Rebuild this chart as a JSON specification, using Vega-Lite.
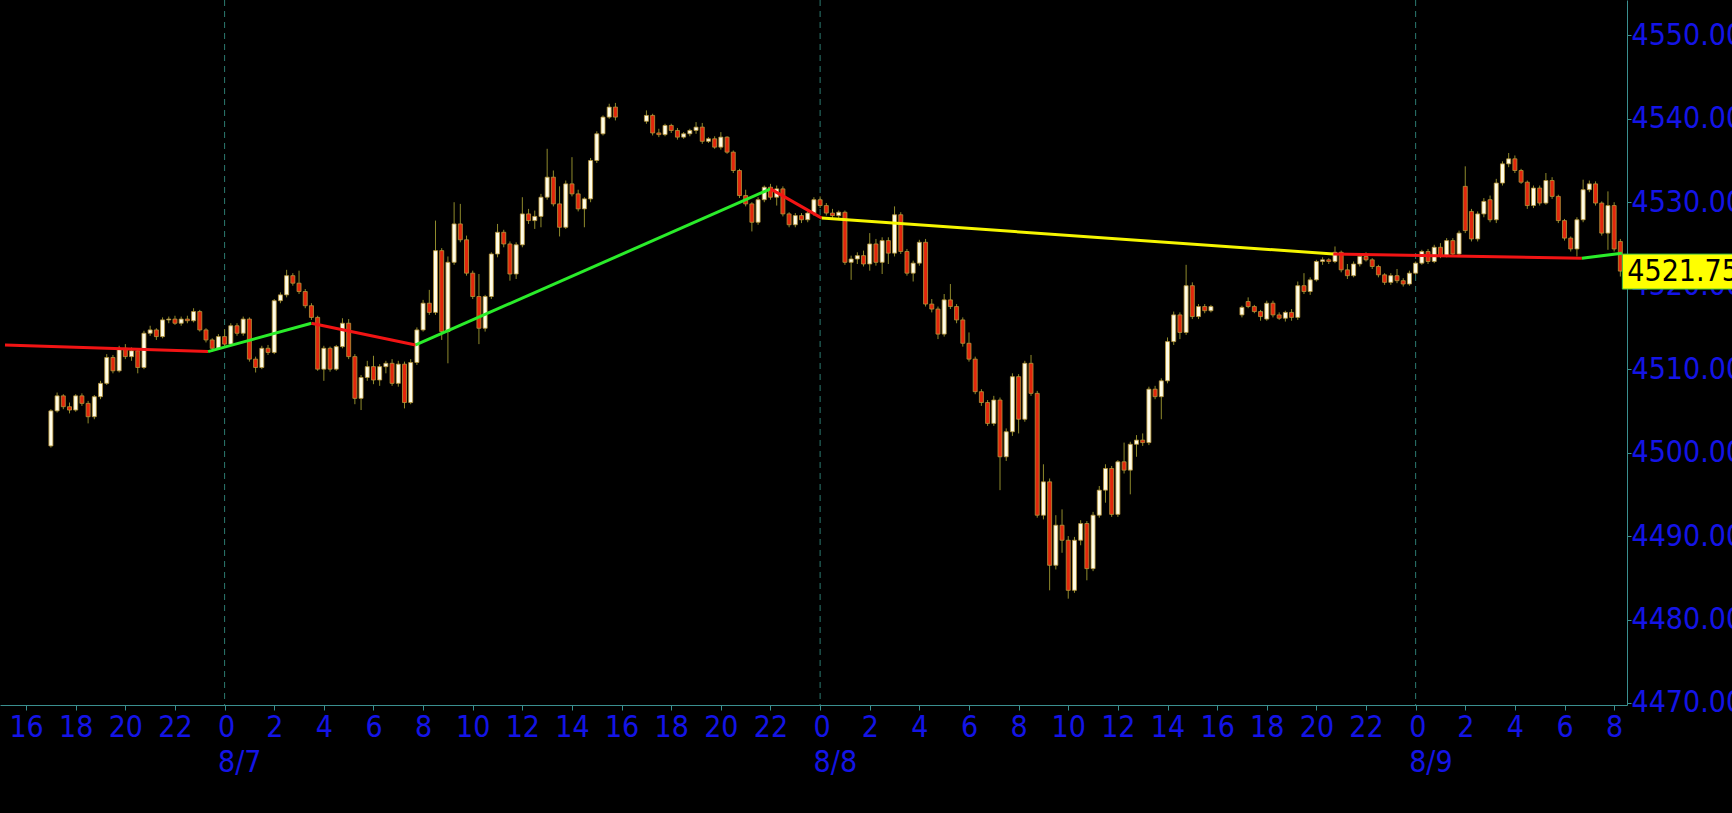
{
  "$schema": "https://vega.github.io/schema/vega-lite/v6.json",
  "autosize": "none",
  "width": 1627,
  "height": 705,
  "padding": {"left": 0, "top": 0, "right": 105, "bottom": 108},
  "background": "#000000",
  "config": {"view": {"stroke": null}},
  "datasets": {
    "bars": [
      {"t":"2023-08-06T17:00:00Z","o":4500.8,"h":4505.2,"l":4500.6,"c":4505.0},
      {"t":"2023-08-06T17:15:00Z","o":4505.0,"h":4507.2,"l":4504.8,"c":4506.8},
      {"t":"2023-08-06T17:30:00Z","o":4506.8,"h":4507.0,"l":4505.2,"c":4505.5},
      {"t":"2023-08-06T17:45:00Z","o":4505.5,"h":4506.0,"l":4504.7,"c":4505.1},
      {"t":"2023-08-06T18:00:00Z","o":4505.1,"h":4507.0,"l":4504.9,"c":4506.8},
      {"t":"2023-08-06T18:15:00Z","o":4506.8,"h":4507.1,"l":4505.6,"c":4505.9},
      {"t":"2023-08-06T18:30:00Z","o":4505.9,"h":4506.2,"l":4503.5,"c":4504.3},
      {"t":"2023-08-06T18:45:00Z","o":4504.3,"h":4506.9,"l":4504.0,"c":4506.7},
      {"t":"2023-08-06T19:00:00Z","o":4506.7,"h":4508.6,"l":4506.4,"c":4508.3},
      {"t":"2023-08-06T19:15:00Z","o":4508.3,"h":4511.8,"l":4508.1,"c":4511.4},
      {"t":"2023-08-06T19:30:00Z","o":4511.4,"h":4511.7,"l":4509.5,"c":4509.8},
      {"t":"2023-08-06T19:45:00Z","o":4509.8,"h":4512.8,"l":4509.6,"c":4512.5},
      {"t":"2023-08-06T20:00:00Z","o":4512.5,"h":4513.0,"l":4511.2,"c":4511.5},
      {"t":"2023-08-06T20:15:00Z","o":4511.5,"h":4512.6,"l":4511.0,"c":4512.2},
      {"t":"2023-08-06T20:30:00Z","o":4512.2,"h":4512.5,"l":4509.5,"c":4510.2},
      {"t":"2023-08-06T20:45:00Z","o":4510.2,"h":4514.6,"l":4510.0,"c":4514.3},
      {"t":"2023-08-06T21:00:00Z","o":4514.3,"h":4515.2,"l":4514.0,"c":4514.7},
      {"t":"2023-08-06T21:15:00Z","o":4514.7,"h":4514.9,"l":4513.5,"c":4513.9},
      {"t":"2023-08-06T21:30:00Z","o":4513.9,"h":4516.2,"l":4513.7,"c":4515.9},
      {"t":"2023-08-06T21:45:00Z","o":4515.9,"h":4516.3,"l":4515.5,"c":4516.0},
      {"t":"2023-08-06T22:00:00Z","o":4516.0,"h":4516.4,"l":4515.3,"c":4515.5},
      {"t":"2023-08-06T22:15:00Z","o":4515.5,"h":4516.3,"l":4515.2,"c":4516.0},
      {"t":"2023-08-06T22:30:00Z","o":4516.0,"h":4516.4,"l":4515.5,"c":4515.8},
      {"t":"2023-08-06T22:45:00Z","o":4515.8,"h":4517.3,"l":4515.6,"c":4516.9},
      {"t":"2023-08-06T23:00:00Z","o":4516.9,"h":4517.1,"l":4514.5,"c":4514.7},
      {"t":"2023-08-06T23:15:00Z","o":4514.7,"h":4514.9,"l":4513.2,"c":4513.5},
      {"t":"2023-08-06T23:30:00Z","o":4513.5,"h":4513.7,"l":4512.1,"c":4512.5},
      {"t":"2023-08-06T23:45:00Z","o":4512.5,"h":4514.2,"l":4512.3,"c":4513.9},
      {"t":"2023-08-07T00:00:00Z","o":4513.9,"h":4514.8,"l":4512.7,"c":4513.0},
      {"t":"2023-08-07T00:15:00Z","o":4513.0,"h":4515.5,"l":4512.8,"c":4515.2},
      {"t":"2023-08-07T00:30:00Z","o":4515.2,"h":4515.5,"l":4514.0,"c":4514.3},
      {"t":"2023-08-07T00:45:00Z","o":4514.3,"h":4516.3,"l":4514.0,"c":4516.0},
      {"t":"2023-08-07T01:00:00Z","o":4516.0,"h":4516.2,"l":4510.9,"c":4511.2},
      {"t":"2023-08-07T01:15:00Z","o":4511.2,"h":4511.5,"l":4509.6,"c":4510.2},
      {"t":"2023-08-07T01:30:00Z","o":4510.2,"h":4512.8,"l":4510.0,"c":4512.5},
      {"t":"2023-08-07T01:45:00Z","o":4512.5,"h":4512.9,"l":4511.7,"c":4512.0},
      {"t":"2023-08-07T02:00:00Z","o":4512.0,"h":4518.4,"l":4511.8,"c":4518.2},
      {"t":"2023-08-07T02:15:00Z","o":4518.2,"h":4519.2,"l":4517.9,"c":4518.9},
      {"t":"2023-08-07T02:30:00Z","o":4518.9,"h":4521.9,"l":4518.6,"c":4521.2},
      {"t":"2023-08-07T02:45:00Z","o":4521.2,"h":4521.5,"l":4520.0,"c":4520.3},
      {"t":"2023-08-07T03:00:00Z","o":4520.3,"h":4521.8,"l":4519.0,"c":4519.3},
      {"t":"2023-08-07T03:15:00Z","o":4519.3,"h":4519.6,"l":4517.3,"c":4517.6},
      {"t":"2023-08-07T03:30:00Z","o":4517.6,"h":4517.9,"l":4515.9,"c":4516.2},
      {"t":"2023-08-07T03:45:00Z","o":4516.2,"h":4516.4,"l":4509.8,"c":4510.0},
      {"t":"2023-08-07T04:00:00Z","o":4510.0,"h":4512.8,"l":4508.6,"c":4512.5},
      {"t":"2023-08-07T04:15:00Z","o":4512.5,"h":4512.7,"l":4509.7,"c":4510.0},
      {"t":"2023-08-07T04:30:00Z","o":4510.0,"h":4512.9,"l":4509.8,"c":4512.7},
      {"t":"2023-08-07T04:45:00Z","o":4512.7,"h":4516.1,"l":4512.5,"c":4515.5},
      {"t":"2023-08-07T05:00:00Z","o":4515.5,"h":4516.0,"l":4511.2,"c":4511.5},
      {"t":"2023-08-07T05:15:00Z","o":4511.5,"h":4511.8,"l":4505.8,"c":4506.5},
      {"t":"2023-08-07T05:30:00Z","o":4506.5,"h":4509.3,"l":4505.1,"c":4509.0},
      {"t":"2023-08-07T05:45:00Z","o":4509.0,"h":4511.0,"l":4508.6,"c":4510.3},
      {"t":"2023-08-07T06:00:00Z","o":4510.3,"h":4511.6,"l":4508.2,"c":4508.7},
      {"t":"2023-08-07T06:15:00Z","o":4508.7,"h":4510.6,"l":4508.0,"c":4510.3},
      {"t":"2023-08-07T06:30:00Z","o":4510.3,"h":4511.0,"l":4509.5,"c":4510.7},
      {"t":"2023-08-07T06:45:00Z","o":4510.7,"h":4511.2,"l":4508.0,"c":4508.3},
      {"t":"2023-08-07T07:00:00Z","o":4508.3,"h":4511.0,"l":4507.9,"c":4510.6},
      {"t":"2023-08-07T07:15:00Z","o":4510.6,"h":4510.9,"l":4505.3,"c":4506.0},
      {"t":"2023-08-07T07:30:00Z","o":4506.0,"h":4511.2,"l":4505.8,"c":4510.8},
      {"t":"2023-08-07T07:45:00Z","o":4510.8,"h":4515.0,"l":4510.5,"c":4514.7},
      {"t":"2023-08-07T08:00:00Z","o":4514.7,"h":4518.3,"l":4514.5,"c":4517.9},
      {"t":"2023-08-07T08:15:00Z","o":4517.9,"h":4519.5,"l":4516.5,"c":4516.8},
      {"t":"2023-08-07T08:30:00Z","o":4516.8,"h":4527.8,"l":4516.5,"c":4524.2},
      {"t":"2023-08-07T08:45:00Z","o":4524.2,"h":4524.5,"l":4513.5,"c":4514.5},
      {"t":"2023-08-07T09:00:00Z","o":4514.5,"h":4523.5,"l":4510.7,"c":4522.8},
      {"t":"2023-08-07T09:15:00Z","o":4522.8,"h":4530.0,"l":4522.5,"c":4527.4},
      {"t":"2023-08-07T09:30:00Z","o":4527.4,"h":4529.8,"l":4525.2,"c":4525.5},
      {"t":"2023-08-07T09:45:00Z","o":4525.5,"h":4526.0,"l":4521.2,"c":4521.5},
      {"t":"2023-08-07T10:00:00Z","o":4521.5,"h":4521.8,"l":4518.4,"c":4518.7},
      {"t":"2023-08-07T10:15:00Z","o":4518.7,"h":4521.4,"l":4513.0,"c":4514.9},
      {"t":"2023-08-07T10:30:00Z","o":4514.9,"h":4518.9,"l":4514.5,"c":4518.7},
      {"t":"2023-08-07T10:45:00Z","o":4518.7,"h":4524.0,"l":4518.4,"c":4523.8},
      {"t":"2023-08-07T11:00:00Z","o":4523.8,"h":4527.4,"l":4523.4,"c":4526.4},
      {"t":"2023-08-07T11:15:00Z","o":4526.4,"h":4526.7,"l":4524.6,"c":4525.0},
      {"t":"2023-08-07T11:30:00Z","o":4525.0,"h":4525.3,"l":4520.6,"c":4521.4},
      {"t":"2023-08-07T11:45:00Z","o":4521.4,"h":4525.2,"l":4520.8,"c":4524.9},
      {"t":"2023-08-07T12:00:00Z","o":4524.9,"h":4530.6,"l":4524.6,"c":4528.6},
      {"t":"2023-08-07T12:15:00Z","o":4528.6,"h":4529.2,"l":4527.4,"c":4527.8},
      {"t":"2023-08-07T12:30:00Z","o":4527.8,"h":4529.0,"l":4526.8,"c":4528.3},
      {"t":"2023-08-07T12:45:00Z","o":4528.3,"h":4531.0,"l":4527.0,"c":4530.6},
      {"t":"2023-08-07T13:00:00Z","o":4530.6,"h":4536.4,"l":4530.3,"c":4533.0},
      {"t":"2023-08-07T13:15:00Z","o":4533.0,"h":4533.8,"l":4529.5,"c":4529.8},
      {"t":"2023-08-07T13:30:00Z","o":4529.8,"h":4531.9,"l":4525.9,"c":4527.0},
      {"t":"2023-08-07T13:45:00Z","o":4527.0,"h":4532.6,"l":4526.8,"c":4532.2},
      {"t":"2023-08-07T14:00:00Z","o":4532.2,"h":4535.4,"l":4530.7,"c":4531.0},
      {"t":"2023-08-07T14:15:00Z","o":4531.0,"h":4531.5,"l":4528.9,"c":4529.2},
      {"t":"2023-08-07T14:30:00Z","o":4529.2,"h":4530.6,"l":4527.0,"c":4530.4},
      {"t":"2023-08-07T14:45:00Z","o":4530.4,"h":4535.3,"l":4530.0,"c":4535.0},
      {"t":"2023-08-07T15:00:00Z","o":4535.0,"h":4538.5,"l":4534.7,"c":4538.2},
      {"t":"2023-08-07T15:15:00Z","o":4538.2,"h":4540.4,"l":4538.0,"c":4540.2},
      {"t":"2023-08-07T15:30:00Z","o":4540.2,"h":4541.8,"l":4540.0,"c":4541.4},
      {"t":"2023-08-07T15:45:00Z","o":4541.4,"h":4541.9,"l":4539.8,"c":4540.2},
      {"t":"2023-08-07T17:00:00Z","o":4539.7,"h":4541.0,"l":4539.4,"c":4540.4},
      {"t":"2023-08-07T17:15:00Z","o":4540.4,"h":4540.6,"l":4538.0,"c":4538.3},
      {"t":"2023-08-07T17:30:00Z","o":4538.3,"h":4538.8,"l":4537.8,"c":4538.1},
      {"t":"2023-08-07T17:45:00Z","o":4538.1,"h":4539.4,"l":4537.9,"c":4539.2},
      {"t":"2023-08-07T18:00:00Z","o":4539.2,"h":4539.4,"l":4538.3,"c":4538.6},
      {"t":"2023-08-07T18:15:00Z","o":4538.6,"h":4538.9,"l":4537.5,"c":4537.8},
      {"t":"2023-08-07T18:30:00Z","o":4537.8,"h":4538.4,"l":4537.6,"c":4538.2},
      {"t":"2023-08-07T18:45:00Z","o":4538.2,"h":4538.8,"l":4537.9,"c":4538.6},
      {"t":"2023-08-07T19:00:00Z","o":4538.6,"h":4539.6,"l":4538.2,"c":4539.0},
      {"t":"2023-08-07T19:15:00Z","o":4539.0,"h":4539.5,"l":4537.0,"c":4537.3},
      {"t":"2023-08-07T19:30:00Z","o":4537.3,"h":4537.8,"l":4537.1,"c":4537.6},
      {"t":"2023-08-07T19:45:00Z","o":4537.6,"h":4537.9,"l":4536.4,"c":4536.6},
      {"t":"2023-08-07T20:00:00Z","o":4536.6,"h":4538.4,"l":4536.3,"c":4537.8},
      {"t":"2023-08-07T20:15:00Z","o":4537.8,"h":4537.9,"l":4535.8,"c":4536.0},
      {"t":"2023-08-07T20:30:00Z","o":4536.0,"h":4536.2,"l":4533.5,"c":4533.8},
      {"t":"2023-08-07T20:45:00Z","o":4533.8,"h":4534.0,"l":4530.5,"c":4530.8},
      {"t":"2023-08-07T21:00:00Z","o":4530.8,"h":4531.5,"l":4529.5,"c":4529.8},
      {"t":"2023-08-07T21:15:00Z","o":4529.8,"h":4530.0,"l":4526.5,"c":4527.6},
      {"t":"2023-08-07T21:30:00Z","o":4527.6,"h":4530.6,"l":4527.3,"c":4530.3},
      {"t":"2023-08-07T21:45:00Z","o":4530.3,"h":4532.0,"l":4530.0,"c":4531.8},
      {"t":"2023-08-07T22:00:00Z","o":4531.8,"h":4532.2,"l":4530.3,"c":4530.6},
      {"t":"2023-08-07T22:15:00Z","o":4530.6,"h":4532.0,"l":4529.6,"c":4531.6},
      {"t":"2023-08-07T22:30:00Z","o":4531.6,"h":4531.9,"l":4528.3,"c":4528.6},
      {"t":"2023-08-07T22:45:00Z","o":4528.6,"h":4528.8,"l":4527.0,"c":4527.3},
      {"t":"2023-08-07T23:00:00Z","o":4527.3,"h":4528.7,"l":4527.0,"c":4528.4},
      {"t":"2023-08-07T23:15:00Z","o":4528.4,"h":4528.7,"l":4527.5,"c":4527.9},
      {"t":"2023-08-07T23:30:00Z","o":4527.9,"h":4528.9,"l":4527.6,"c":4528.7},
      {"t":"2023-08-07T23:45:00Z","o":4528.7,"h":4530.6,"l":4528.4,"c":4530.3},
      {"t":"2023-08-08T00:00:00Z","o":4530.3,"h":4530.7,"l":4529.3,"c":4529.6},
      {"t":"2023-08-08T00:15:00Z","o":4529.6,"h":4529.9,"l":4528.4,"c":4528.7},
      {"t":"2023-08-08T00:30:00Z","o":4528.7,"h":4529.2,"l":4528.0,"c":4528.4},
      {"t":"2023-08-08T00:45:00Z","o":4528.4,"h":4529.0,"l":4528.1,"c":4528.8},
      {"t":"2023-08-08T01:00:00Z","o":4528.8,"h":4529.0,"l":4522.5,"c":4522.8},
      {"t":"2023-08-08T01:15:00Z","o":4522.8,"h":4523.6,"l":4520.7,"c":4523.2},
      {"t":"2023-08-08T01:30:00Z","o":4523.2,"h":4524.0,"l":4522.6,"c":4523.6},
      {"t":"2023-08-08T01:45:00Z","o":4523.6,"h":4524.2,"l":4522.3,"c":4522.6},
      {"t":"2023-08-08T02:00:00Z","o":4522.6,"h":4526.3,"l":4521.8,"c":4525.0},
      {"t":"2023-08-08T02:15:00Z","o":4525.0,"h":4525.6,"l":4522.4,"c":4522.8},
      {"t":"2023-08-08T02:30:00Z","o":4522.8,"h":4525.8,"l":4521.4,"c":4525.4},
      {"t":"2023-08-08T02:45:00Z","o":4525.4,"h":4525.8,"l":4522.6,"c":4523.9},
      {"t":"2023-08-08T03:00:00Z","o":4523.9,"h":4529.5,"l":4523.5,"c":4528.5},
      {"t":"2023-08-08T03:15:00Z","o":4528.5,"h":4528.8,"l":4523.8,"c":4524.1},
      {"t":"2023-08-08T03:30:00Z","o":4524.1,"h":4524.4,"l":4521.2,"c":4521.5},
      {"t":"2023-08-08T03:45:00Z","o":4521.5,"h":4523.0,"l":4520.5,"c":4522.7},
      {"t":"2023-08-08T04:00:00Z","o":4522.7,"h":4525.5,"l":4522.4,"c":4525.2},
      {"t":"2023-08-08T04:15:00Z","o":4525.2,"h":4525.6,"l":4517.5,"c":4517.8},
      {"t":"2023-08-08T04:30:00Z","o":4517.8,"h":4518.4,"l":4516.8,"c":4517.2},
      {"t":"2023-08-08T04:45:00Z","o":4517.2,"h":4517.5,"l":4513.6,"c":4514.2},
      {"t":"2023-08-08T05:00:00Z","o":4514.2,"h":4519.0,"l":4513.9,"c":4518.3},
      {"t":"2023-08-08T05:15:00Z","o":4518.3,"h":4520.2,"l":4517.2,"c":4517.5},
      {"t":"2023-08-08T05:30:00Z","o":4517.5,"h":4517.8,"l":4515.5,"c":4515.9},
      {"t":"2023-08-08T05:45:00Z","o":4515.9,"h":4516.2,"l":4512.7,"c":4513.1},
      {"t":"2023-08-08T06:00:00Z","o":4513.1,"h":4514.4,"l":4510.9,"c":4511.2},
      {"t":"2023-08-08T06:15:00Z","o":4511.2,"h":4511.5,"l":4507.0,"c":4507.3},
      {"t":"2023-08-08T06:30:00Z","o":4507.3,"h":4507.6,"l":4505.6,"c":4506.0},
      {"t":"2023-08-08T06:45:00Z","o":4506.0,"h":4506.3,"l":4503.2,"c":4503.5},
      {"t":"2023-08-08T07:00:00Z","o":4503.5,"h":4506.8,"l":4503.2,"c":4506.3},
      {"t":"2023-08-08T07:15:00Z","o":4506.3,"h":4506.6,"l":4495.5,"c":4499.5},
      {"t":"2023-08-08T07:30:00Z","o":4499.5,"h":4502.9,"l":4499.0,"c":4502.5},
      {"t":"2023-08-08T07:45:00Z","o":4502.5,"h":4509.5,"l":4502.0,"c":4509.1},
      {"t":"2023-08-08T08:00:00Z","o":4509.1,"h":4509.4,"l":4502.3,"c":4504.0},
      {"t":"2023-08-08T08:15:00Z","o":4504.0,"h":4511.0,"l":4503.7,"c":4510.7},
      {"t":"2023-08-08T08:30:00Z","o":4510.7,"h":4511.7,"l":4506.8,"c":4507.1},
      {"t":"2023-08-08T08:45:00Z","o":4507.1,"h":4507.4,"l":4492.2,"c":4492.5},
      {"t":"2023-08-08T09:00:00Z","o":4492.5,"h":4498.6,"l":4492.0,"c":4496.5},
      {"t":"2023-08-08T09:15:00Z","o":4496.5,"h":4496.9,"l":4483.5,"c":4486.5},
      {"t":"2023-08-08T09:30:00Z","o":4486.5,"h":4492.5,"l":4486.0,"c":4491.3},
      {"t":"2023-08-08T09:45:00Z","o":4491.3,"h":4493.2,"l":4488.0,"c":4489.5},
      {"t":"2023-08-08T10:00:00Z","o":4489.5,"h":4490.0,"l":4482.5,"c":4483.5},
      {"t":"2023-08-08T10:15:00Z","o":4483.5,"h":4489.9,"l":4483.2,"c":4489.5},
      {"t":"2023-08-08T10:30:00Z","o":4489.5,"h":4491.9,"l":4488.9,"c":4491.5},
      {"t":"2023-08-08T10:45:00Z","o":4491.5,"h":4491.8,"l":4484.7,"c":4486.1},
      {"t":"2023-08-08T11:00:00Z","o":4486.1,"h":4492.9,"l":4485.8,"c":4492.5},
      {"t":"2023-08-08T11:15:00Z","o":4492.5,"h":4496.0,"l":4492.2,"c":4495.5},
      {"t":"2023-08-08T11:30:00Z","o":4495.5,"h":4498.6,"l":4494.0,"c":4498.1},
      {"t":"2023-08-08T11:45:00Z","o":4498.1,"h":4498.4,"l":4492.3,"c":4492.6},
      {"t":"2023-08-08T12:00:00Z","o":4492.6,"h":4499.1,"l":4492.3,"c":4498.9},
      {"t":"2023-08-08T12:15:00Z","o":4498.9,"h":4501.2,"l":4497.5,"c":4497.9},
      {"t":"2023-08-08T12:30:00Z","o":4497.9,"h":4501.3,"l":4495.0,"c":4501.0},
      {"t":"2023-08-08T12:45:00Z","o":4501.0,"h":4502.1,"l":4499.5,"c":4501.5},
      {"t":"2023-08-08T13:00:00Z","o":4501.5,"h":4502.3,"l":4500.8,"c":4501.2},
      {"t":"2023-08-08T13:15:00Z","o":4501.2,"h":4507.9,"l":4500.9,"c":4507.6},
      {"t":"2023-08-08T13:30:00Z","o":4507.6,"h":4508.0,"l":4506.4,"c":4506.7},
      {"t":"2023-08-08T13:45:00Z","o":4506.7,"h":4508.9,"l":4504.0,"c":4508.6},
      {"t":"2023-08-08T14:00:00Z","o":4508.6,"h":4513.8,"l":4508.3,"c":4513.3},
      {"t":"2023-08-08T14:15:00Z","o":4513.3,"h":4516.9,"l":4512.9,"c":4516.5},
      {"t":"2023-08-08T14:30:00Z","o":4516.5,"h":4516.8,"l":4513.6,"c":4514.4},
      {"t":"2023-08-08T14:45:00Z","o":4514.4,"h":4522.5,"l":4514.1,"c":4520.0},
      {"t":"2023-08-08T15:00:00Z","o":4520.0,"h":4520.4,"l":4516.0,"c":4516.3},
      {"t":"2023-08-08T15:15:00Z","o":4516.3,"h":4517.8,"l":4516.0,"c":4517.5},
      {"t":"2023-08-08T15:30:00Z","o":4517.5,"h":4517.8,"l":4516.7,"c":4517.0},
      {"t":"2023-08-08T15:45:00Z","o":4517.0,"h":4517.7,"l":4516.8,"c":4517.5},
      {"t":"2023-08-08T17:00:00Z","o":4516.5,"h":4517.6,"l":4516.2,"c":4517.4},
      {"t":"2023-08-08T17:15:00Z","o":4518.1,"h":4518.6,"l":4517.3,"c":4517.5},
      {"t":"2023-08-08T17:30:00Z","o":4517.5,"h":4517.7,"l":4516.7,"c":4516.9},
      {"t":"2023-08-08T17:45:00Z","o":4516.9,"h":4517.1,"l":4515.8,"c":4516.3},
      {"t":"2023-08-08T18:00:00Z","o":4516.0,"h":4518.2,"l":4515.8,"c":4517.9},
      {"t":"2023-08-08T18:15:00Z","o":4517.9,"h":4518.2,"l":4516.2,"c":4516.5},
      {"t":"2023-08-08T18:30:00Z","o":4516.5,"h":4516.8,"l":4515.9,"c":4516.1},
      {"t":"2023-08-08T18:45:00Z","o":4516.1,"h":4517.0,"l":4515.7,"c":4516.8},
      {"t":"2023-08-08T19:00:00Z","o":4516.8,"h":4517.2,"l":4515.8,"c":4516.2},
      {"t":"2023-08-08T19:15:00Z","o":4516.2,"h":4520.5,"l":4515.9,"c":4520.0},
      {"t":"2023-08-08T19:30:00Z","o":4520.0,"h":4521.5,"l":4519.0,"c":4519.3},
      {"t":"2023-08-08T19:45:00Z","o":4519.3,"h":4521.0,"l":4518.9,"c":4520.7},
      {"t":"2023-08-08T20:00:00Z","o":4520.7,"h":4523.1,"l":4520.5,"c":4522.9},
      {"t":"2023-08-08T20:15:00Z","o":4522.9,"h":4523.4,"l":4522.5,"c":4523.1},
      {"t":"2023-08-08T20:30:00Z","o":4523.1,"h":4523.3,"l":4522.6,"c":4522.9},
      {"t":"2023-08-08T20:45:00Z","o":4522.9,"h":4524.7,"l":4522.7,"c":4524.0},
      {"t":"2023-08-08T21:00:00Z","o":4524.0,"h":4524.2,"l":4521.6,"c":4521.9},
      {"t":"2023-08-08T21:15:00Z","o":4521.9,"h":4522.6,"l":4520.8,"c":4521.2},
      {"t":"2023-08-08T21:30:00Z","o":4521.2,"h":4522.9,"l":4521.0,"c":4522.6},
      {"t":"2023-08-08T21:45:00Z","o":4522.6,"h":4523.8,"l":4522.3,"c":4523.5},
      {"t":"2023-08-08T22:00:00Z","o":4523.5,"h":4524.0,"l":4522.9,"c":4523.1},
      {"t":"2023-08-08T22:15:00Z","o":4523.1,"h":4523.3,"l":4522.0,"c":4522.3},
      {"t":"2023-08-08T22:30:00Z","o":4522.3,"h":4522.5,"l":4521.0,"c":4521.3},
      {"t":"2023-08-08T22:45:00Z","o":4521.3,"h":4521.5,"l":4520.1,"c":4520.4},
      {"t":"2023-08-08T23:00:00Z","o":4520.4,"h":4521.5,"l":4520.1,"c":4521.2},
      {"t":"2023-08-08T23:15:00Z","o":4521.2,"h":4522.0,"l":4520.3,"c":4520.6},
      {"t":"2023-08-08T23:30:00Z","o":4520.6,"h":4520.9,"l":4519.9,"c":4520.2},
      {"t":"2023-08-08T23:45:00Z","o":4520.2,"h":4521.8,"l":4520.0,"c":4521.5},
      {"t":"2023-08-09T00:00:00Z","o":4521.5,"h":4522.9,"l":4521.3,"c":4522.7},
      {"t":"2023-08-09T00:15:00Z","o":4522.7,"h":4524.3,"l":4522.5,"c":4524.1},
      {"t":"2023-08-09T00:30:00Z","o":4524.1,"h":4524.4,"l":4522.6,"c":4522.9},
      {"t":"2023-08-09T00:45:00Z","o":4522.9,"h":4524.9,"l":4522.7,"c":4524.6},
      {"t":"2023-08-09T01:00:00Z","o":4524.6,"h":4525.1,"l":4523.3,"c":4523.6},
      {"t":"2023-08-09T01:15:00Z","o":4523.6,"h":4525.7,"l":4523.4,"c":4525.4},
      {"t":"2023-08-09T01:30:00Z","o":4525.4,"h":4525.7,"l":4523.5,"c":4523.8},
      {"t":"2023-08-09T01:45:00Z","o":4523.8,"h":4526.6,"l":4523.6,"c":4526.3},
      {"t":"2023-08-09T02:00:00Z","o":4531.9,"h":4534.3,"l":4526.3,"c":4526.6},
      {"t":"2023-08-09T02:15:00Z","o":4528.9,"h":4529.2,"l":4525.3,"c":4525.6},
      {"t":"2023-08-09T02:30:00Z","o":4525.6,"h":4528.9,"l":4525.3,"c":4528.6},
      {"t":"2023-08-09T02:45:00Z","o":4528.6,"h":4530.5,"l":4528.2,"c":4530.1},
      {"t":"2023-08-09T03:00:00Z","o":4530.3,"h":4530.8,"l":4527.6,"c":4527.9},
      {"t":"2023-08-09T03:15:00Z","o":4527.9,"h":4532.8,"l":4527.5,"c":4532.3},
      {"t":"2023-08-09T03:30:00Z","o":4532.3,"h":4534.9,"l":4532.0,"c":4534.6},
      {"t":"2023-08-09T03:45:00Z","o":4534.6,"h":4535.9,"l":4534.2,"c":4535.2},
      {"t":"2023-08-09T04:00:00Z","o":4535.2,"h":4535.6,"l":4533.5,"c":4533.8},
      {"t":"2023-08-09T04:15:00Z","o":4533.8,"h":4534.0,"l":4532.2,"c":4532.4},
      {"t":"2023-08-09T04:30:00Z","o":4532.4,"h":4532.6,"l":4529.2,"c":4529.6},
      {"t":"2023-08-09T04:45:00Z","o":4529.6,"h":4532.0,"l":4529.3,"c":4531.7},
      {"t":"2023-08-09T05:00:00Z","o":4531.7,"h":4532.0,"l":4529.6,"c":4529.9},
      {"t":"2023-08-09T05:15:00Z","o":4529.9,"h":4533.5,"l":4529.7,"c":4532.6},
      {"t":"2023-08-09T05:30:00Z","o":4532.6,"h":4533.0,"l":4530.4,"c":4530.7},
      {"t":"2023-08-09T05:45:00Z","o":4530.7,"h":4530.9,"l":4527.5,"c":4527.8},
      {"t":"2023-08-09T06:00:00Z","o":4527.8,"h":4528.0,"l":4525.4,"c":4525.7},
      {"t":"2023-08-09T06:15:00Z","o":4525.7,"h":4525.9,"l":4524.1,"c":4524.4},
      {"t":"2023-08-09T06:30:00Z","o":4524.4,"h":4528.2,"l":4523.5,"c":4527.9},
      {"t":"2023-08-09T06:45:00Z","o":4527.9,"h":4532.7,"l":4527.6,"c":4531.5},
      {"t":"2023-08-09T07:00:00Z","o":4531.5,"h":4532.6,"l":4531.2,"c":4532.2},
      {"t":"2023-08-09T07:15:00Z","o":4532.2,"h":4532.5,"l":4529.6,"c":4529.9},
      {"t":"2023-08-09T07:30:00Z","o":4529.9,"h":4530.1,"l":4526.0,"c":4526.3},
      {"t":"2023-08-09T07:45:00Z","o":4526.3,"h":4531.3,"l":4524.3,"c":4529.6},
      {"t":"2023-08-09T08:00:00Z","o":4529.6,"h":4530.0,"l":4524.1,"c":4524.4},
      {"t":"2023-08-09T08:15:00Z","o":4525.3,"h":4525.6,"l":4521.1,"c":4521.75}
    ],
    "zigzag": [
      {"t1":"2023-08-06T15:09:00Z","p1":4512.9,"t2":"2023-08-06T23:20:00Z","p2":4512.1,"dir":"down"},
      {"t1":"2023-08-06T23:20:00Z","p1":4512.1,"t2":"2023-08-07T03:30:00Z","p2":4515.5,"dir":"up"},
      {"t1":"2023-08-07T03:30:00Z","p1":4515.5,"t2":"2023-08-07T07:42:00Z","p2":4512.9,"dir":"down"},
      {"t1":"2023-08-07T07:42:00Z","p1":4512.9,"t2":"2023-08-07T22:00:00Z","p2":4531.6,"dir":"up"},
      {"t1":"2023-08-07T22:00:00Z","p1":4531.6,"t2":"2023-08-08T00:04:00Z","p2":4528.1,"dir":"down"},
      {"t1":"2023-08-08T00:04:00Z","p1":4528.1,"t2":"2023-08-08T20:41:00Z","p2":4523.8,"dir":"pending"},
      {"t1":"2023-08-08T20:41:00Z","p1":4523.8,"t2":"2023-08-09T06:42:00Z","p2":4523.3,"dir":"down"},
      {"t1":"2023-08-09T06:42:00Z","p1":4523.3,"t2":"2023-08-09T08:19:00Z","p2":4523.9,"dir":"up"}
    ],
    "days": [
      {"d":"2023-08-07T00:00:00Z"},
      {"d":"2023-08-08T00:00:00Z"},
      {"d":"2023-08-09T00:00:00Z"}
    ],
    "last": [
      {"t":"2023-08-09T08:15:00Z","p":4521.75,"lab":"4521.750"}
    ]
  },
  "layer": [
    {
      "data": {"name": "days"},
      "mark": {"type": "rule", "color": "#2c7a70", "strokeWidth": 1, "strokeDash": [6, 5]},
      "encoding": {
        "x": {"field": "d", "type": "temporal", "title": null,
          "scale": {"type": "utc", "domain": [1691334540000, 1691569140000]},
          "axis": {"orient": "bottom", "title": null, "grid": false,
            "values": [1691337600000,1691341200000,1691344800000,1691348400000,1691352000000,1691355600000,1691359200000,1691362800000,1691366400000,1691370000000,1691373600000,1691377200000,1691380800000,1691384400000,1691388000000,1691391600000,1691395200000,1691398800000,1691402400000,1691406000000,1691409600000,1691413200000,1691416800000,1691420400000,1691424000000,1691427600000,1691431200000,1691434800000,1691438400000,1691442000000,1691445600000,1691449200000,1691452800000,1691456400000,1691460000000,1691463600000,1691467200000,1691470800000,1691474400000,1691478000000,1691481600000,1691485200000,1691488800000,1691492400000,1691496000000,1691499600000,1691503200000,1691506800000,1691510400000,1691514000000,1691517600000,1691521200000,1691524800000,1691528400000,1691532000000,1691535600000,1691539200000,1691542800000,1691546400000,1691550000000,1691553600000,1691557200000,1691560800000,1691564400000,1691568000000],
            "labelExpr": "utchours(datum.value) == 0 ? ['0', (utcmonth(datum.value) + 1) + '/' + utcdate(datum.value)] : (utchours(datum.value) % 2 == 0 ? '' + utchours(datum.value) : '')",
            "labelAlign": {"condition": {"test": "utchours(datum.value) == 0", "value": "left"}, "value": "center"},
            "labelOffset": {"condition": {"test": "utchours(datum.value) == 0", "value": -7}, "value": 0},
            "labelFont": "Liberation Sans Narrow, DejaVu Sans Condensed, Liberation Sans",
            "labelFontSize": 30, "labelColor": "#1414e6", "labelFlush": false, "labelOverlap": false,
            "labelLineHeight": 35, "tickSize": 5, "labelPadding": 2,
            "tickColor": "#3a8f8f", "domainColor": "#3a8f8f"}
        }
      }
    },
    {
      "data": {"name": "bars"},
      "mark": {"type": "rule", "color": "#8f8a2c", "strokeWidth": 1},
      "encoding": {
        "x": {"field": "t", "type": "temporal", "title": null,
          "scale": {"type": "utc", "domain": [1691334540000, 1691569140000]}},
        "y": {"field": "l", "type": "quantitative", "title": null,
          "scale": {"domain": [4469.76, 4554.23], "zero": false, "nice": false},
          "axis": {"orient": "right", "title": null, "grid": false,
            "values": [4470, 4480, 4490, 4500, 4510, 4520, 4530, 4540, 4550],
            "format": ".3f",
            "labelFont": "Liberation Sans Narrow, DejaVu Sans Condensed, Liberation Sans",
            "labelFontSize": 30, "labelColor": "#1414e6", "labelOverlap": false,
            "tickSize": 4, "labelPadding": 0,
            "tickColor": "#3a8f8f", "domainColor": "#3a8f8f"}},
        "y2": {"field": "h"}
      }
    },
    {
      "data": {"name": "bars"},
      "mark": {"type": "bar", "size": 4, "strokeWidth": 0.8, "stroke": "#b8963a"},
      "encoding": {
        "x": {"field": "t", "type": "temporal", "title": null,
          "scale": {"type": "utc", "domain": [1691334540000, 1691569140000]}},
        "y": {"field": "o", "type": "quantitative", "title": null,
          "scale": {"domain": [4469.76, 4554.23], "zero": false, "nice": false}},
        "y2": {"field": "c"},
        "fill": {"condition": {"test": "datum.c >= datum.o", "value": "#fffce6"}, "value": "#e2260c"}
      }
    },
    {
      "data": {"name": "zigzag"},
      "mark": {"type": "rule", "strokeWidth": 3},
      "encoding": {
        "x": {"field": "t1", "type": "temporal", "title": null,
          "scale": {"type": "utc", "domain": [1691334540000, 1691569140000]}},
        "x2": {"field": "t2"},
        "y": {"field": "p1", "type": "quantitative", "title": null,
          "scale": {"domain": [4469.76, 4554.23], "zero": false, "nice": false}},
        "y2": {"field": "p2"},
        "color": {"field": "dir", "type": "nominal", "legend": null,
          "scale": {"domain": ["down", "up", "pending"], "range": ["#f21414", "#2aec2a", "#f6f600"]}}
      }
    },
    {
      "data": {"name": "last"},
      "mark": {"type": "rect", "fill": "#ffff00", "stroke": "#3fbf3f", "strokeWidth": 1,
        "xOffset": 2, "x2Offset": 120, "yOffset": -17, "y2Offset": 18},
      "encoding": {
        "x": {"field": "t", "type": "temporal", "title": null,
          "scale": {"type": "utc", "domain": [1691334540000, 1691569140000]}},
        "x2": {"field": "t"},
        "y": {"field": "p", "type": "quantitative", "title": null,
          "scale": {"domain": [4469.76, 4554.23], "zero": false, "nice": false}},
        "y2": {"field": "p"}
      }
    },
    {
      "data": {"name": "last"},
      "mark": {"type": "text", "align": "left", "baseline": "middle", "dx": 7, "dy": 1, "color": "#000000",
        "font": "Liberation Sans Narrow, DejaVu Sans Condensed, Liberation Sans", "fontSize": 30},
      "encoding": {
        "x": {"field": "t", "type": "temporal", "title": null,
          "scale": {"type": "utc", "domain": [1691334540000, 1691569140000]}},
        "y": {"field": "p", "type": "quantitative", "title": null,
          "scale": {"domain": [4469.76, 4554.23], "zero": false, "nice": false}},
        "text": {"field": "lab"}
      }
    }
  ]
}
